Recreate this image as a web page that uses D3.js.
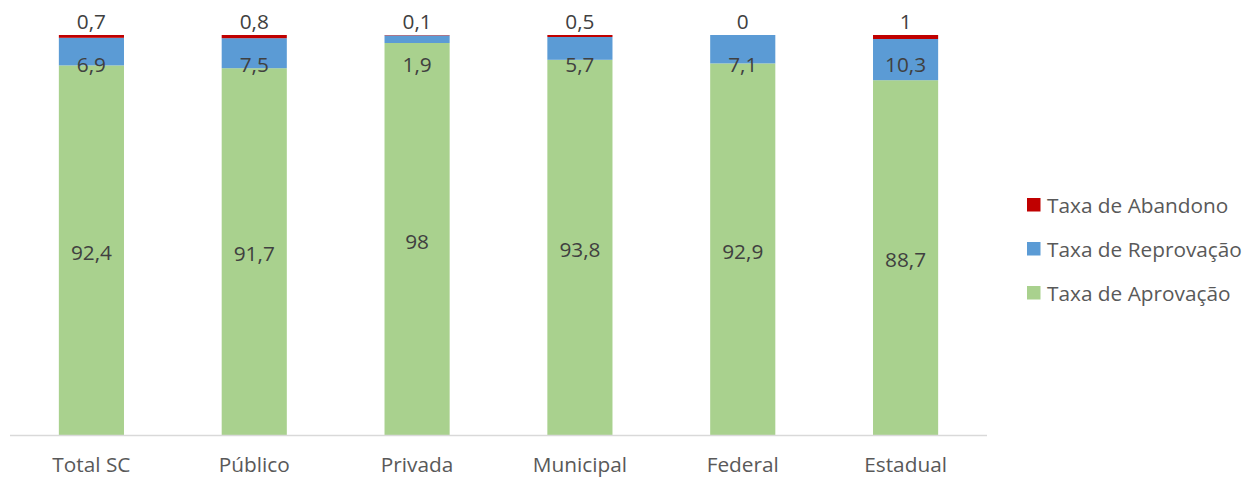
<!DOCTYPE html>
<html><head><meta charset="utf-8">
<script src="https://cdn.jsdelivr.net/npm/d3@7"></script>
<style>body{margin:0;background:#fff}svg{display:block}text{font-family:"Open Sans",sans-serif}</style>
</head><body>
<svg id="c" width="1243" height="477"></svg>
<script>
const categories = ["Total SC","Público","Privada","Municipal","Federal","Estadual"];
const aprovacao  = [92.4, 91.7, 98, 93.8, 92.9, 88.7];
const reprovacao = [6.9, 7.5, 1.9, 5.7, 7.1, 10.3];
const abandono   = [0.7, 0.8, 0.1, 0.5, 0, 1];
const seriesNames = ["Taxa de Aprovação","Taxa de Reprovação","Taxa de Abandono"];
const colors = ["#A9D18E","#5B9BD5","#C00000"];
const fmt = v => String(v).replace(".", ",");
const FS = 20.8;

const svg = d3.select("#c");
const x = d3.scaleBand().domain(categories).range([10, 987]).paddingInner(0.6).paddingOuter(0.3);
const y = d3.scaleLinear().domain([0, 100]).range([435, 35]);

const rows = categories.map((c,i)=>({cat:c, a:aprovacao[i], r:reprovacao[i], b:abandono[i]}));
const stack = d3.stack().keys(["a","r","b"])(rows);

svg.append("g").selectAll("g").data(stack).join("g")
  .attr("fill",(d,i)=>colors[i])
  .selectAll("rect").data(d=>d).join("rect")
  .attr("x",d=>x(d.data.cat)).attr("width",x.bandwidth())
  .attr("y",d=>y(d[1])).attr("height",d=>Math.max(0,y(d[0])-y(d[1])));

svg.append("line").attr("x1",10).attr("x2",987).attr("y1",435.5).attr("y2",435.5)
  .attr("stroke","#d9d9d9").attr("stroke-width",1.3);

const lab = svg.append("g").attr("fill","#404040").attr("font-size",FS).attr("text-anchor","middle");
lab.selectAll(".ga").data(stack[0]).join("text")
  .attr("x",d=>x(d.data.cat)+x.bandwidth()/2)
  .attr("y",d=>(y(d[0])+y(d[1]))/2+9.5).text(d=>fmt(d.data.a));
lab.selectAll(".gr").data(stack[1]).join("text")
  .attr("x",d=>x(d.data.cat)+x.bandwidth()/2)
  .attr("y",d=>y(92.6)+7.5).text(d=>fmt(d.data.r));
lab.selectAll(".gb").data(stack[2]).join("text")
  .attr("x",d=>x(d.data.cat)+x.bandwidth()/2)
  .attr("y",d=>y(d[1])-6).text(d=>fmt(d.data.b));

const xa = svg.append("g").attr("transform","translate(0,435)")
  .call(d3.axisBottom(x).tickSize(0).tickPadding(22));
xa.select(".domain").remove();
xa.selectAll("text").attr("font-size",FS).attr("fill","#595959").attr("font-family","'Open Sans',sans-serif");

const leg = svg.append("g");
[2,1,0].forEach((si,k)=>{
  const cy = 205 + k*44;
  leg.append("rect").attr("x",1027).attr("y",cy-7).attr("width",13.5).attr("height",13.5).attr("fill",colors[si]);
  leg.append("text").attr("x",1047).attr("y",cy+7.5).attr("font-size",FS).attr("fill","#595959").text(seriesNames[si]);
});
</script>
</body></html>
